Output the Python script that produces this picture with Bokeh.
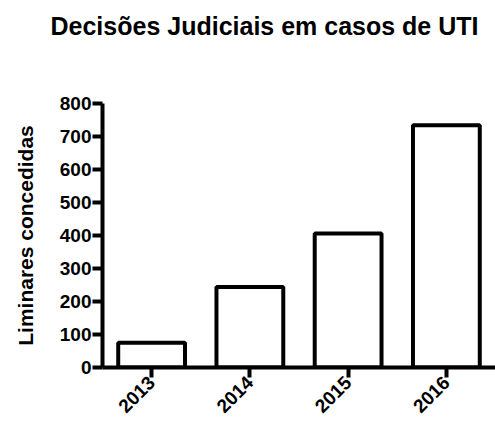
from math import pi
from bokeh.plotting import figure
from bokeh.models import Range1d, SingleIntervalTicker, ColumnDataSource, Title
from bokeh.embed import file_html
from bokeh.resources import INLINE

years = ["2013", "2014", "2015", "2016"]
liminares = [75, 244, 406, 734]

FONT = "Liberation Sans"

src = ColumnDataSource(dict(x=years, top=liminares))

p = figure(width=495, height=421, output_backend="svg", toolbar_location=None,
           x_range=years, y_range=Range1d(0, 800),
           min_border_left=102, min_border_right=0, min_border_top=103, min_border_bottom=52,
           title="Decisões Judiciais em casos de UTI")
p.x_range.range_padding = 0
p.outline_line_color = None
p.grid.grid_line_color = None
p.background_fill_color = "white"

p.title.text_font = FONT
p.title.text_font_size = "25px"
p.title.text_font_style = "bold"
p.title.text_color = "black"
p.title.align = "left"
p.title.vertical_align = "top"
p.title.offset = -52
p.title.standoff = 10

# blank spacer between title and plot area
p.add_layout(Title(text=" ", text_font_size="10px", standoff=44), "above")

p.vbar(x="x", top="top", bottom=0, width=0.68, source=src,
       fill_color="white", line_color="black", line_width=4)

for ax in (p.xaxis[0], p.yaxis[0]):
    ax.axis_line_width = 4
    ax.axis_line_color = "black"
    ax.major_tick_line_width = 4
    ax.major_tick_line_color = "black"
    ax.major_tick_in = 0
    ax.major_tick_out = 10
    ax.minor_tick_line_color = None
    ax.major_label_text_font = FONT
    ax.major_label_text_font_style = "bold"
    ax.major_label_text_font_size = "19px"
    ax.major_label_text_color = "black"

p.xaxis.major_label_orientation = pi / 4
p.xaxis.major_label_standoff = 2

p.yaxis.ticker = SingleIntervalTicker(interval=100)
p.yaxis.major_label_standoff = 1
p.yaxis.axis_label = "Liminares concedidas"
p.yaxis.axis_label_text_font = FONT
p.yaxis.axis_label_text_font_size = "21px"
p.yaxis.axis_label_text_font_style = "bold"
p.yaxis.axis_label_text_color = "black"
p.yaxis.axis_label_standoff = 20

open("out.html", "w").write(file_html(p, INLINE))
